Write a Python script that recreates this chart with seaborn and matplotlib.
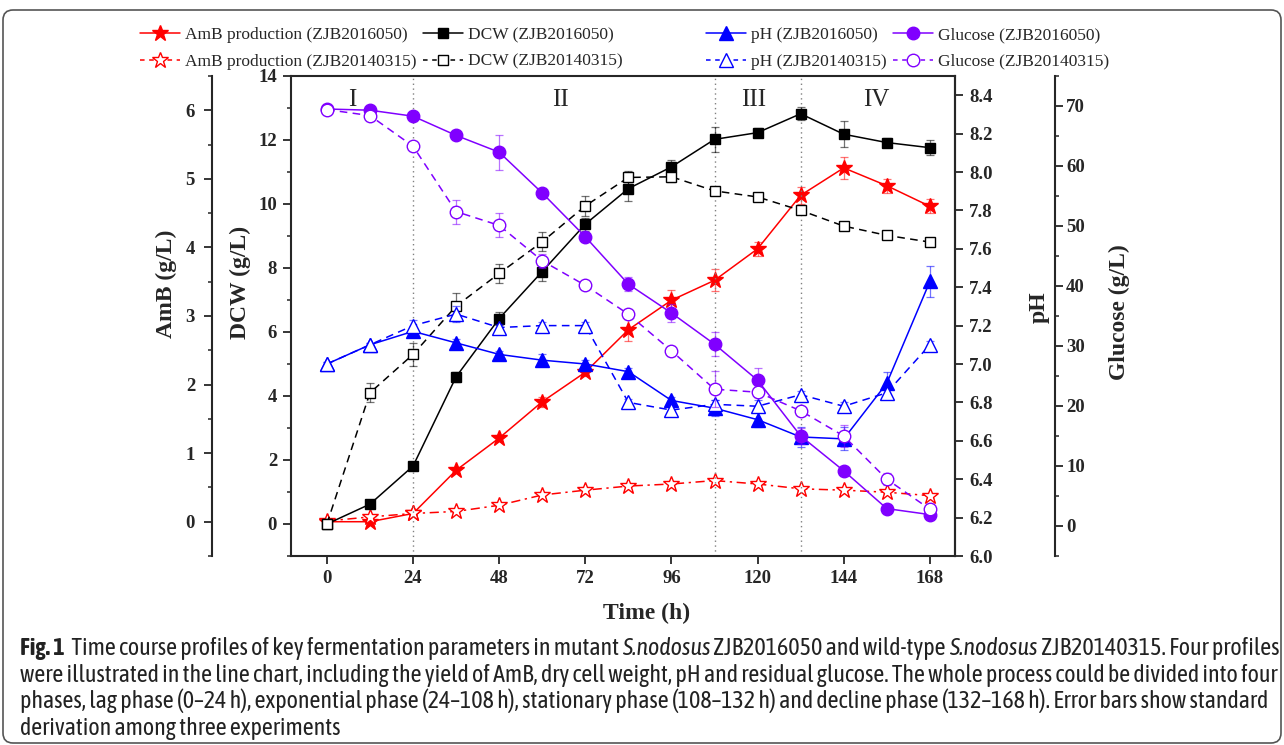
import matplotlib
matplotlib.use("Agg")
import numpy as np
import pandas as pd
import seaborn as sns
import matplotlib.pyplot as plt
from matplotlib import font_manager as fm
from matplotlib.lines import Line2D
from matplotlib.patches import FancyBboxPatch
from matplotlib.transforms import IdentityTransform
from matplotlib.ticker import MultipleLocator, FormatStrFormatter

# ---------------- data ----------------
time_h = [0, 12, 24, 36, 48, 60, 72, 84, 96, 108, 120, 132, 144, 156, 168]

amb_mut = [0.00, 0.00, 0.12, 0.75, 1.22, 1.75, 2.18, 2.80, 3.23, 3.52, 3.98, 4.76, 5.16, 4.90, 4.60]
amb_mut_sd = [0.00, 0.02, 0.02, 0.04, 0.05, 0.07, 0.06, 0.16, 0.15, 0.16, 0.10, 0.12, 0.16, 0.10, 0.10]
amb_wt = [0.01, 0.07, 0.12, 0.15, 0.24, 0.39, 0.46, 0.52, 0.55, 0.60, 0.55, 0.48, 0.46, 0.43, 0.38]
amb_wt_sd = [0.01, 0.02, 0.02, 0.02, 0.03, 0.04, 0.04, 0.04, 0.04, 0.04, 0.04, 0.03, 0.03, 0.03, 0.03]

dcw_mut = [0.00, 0.62, 1.81, 4.60, 6.42, 7.89, 9.37, 10.48, 11.16, 12.02, 12.23, 12.82, 12.18, 11.92, 11.76]
dcw_mut_sd = [0.00, 0.10, 0.10, 0.15, 0.20, 0.30, 0.20, 0.40, 0.20, 0.40, 0.15, 0.20, 0.40, 0.15, 0.23]
dcw_wt = [0.00, 4.10, 5.30, 6.81, 7.83, 8.82, 9.94, 10.83, 10.85, 10.41, 10.22, 9.80, 9.31, 9.02, 8.81]
dcw_wt_sd = [0.00, 0.30, 0.35, 0.40, 0.30, 0.30, 0.30, 0.20, 0.15, 0.10, 0.10, 0.10, 0.10, 0.10, 0.10]

ph_mut = [7.00, 7.10, 7.17, 7.11, 7.05, 7.02, 7.00, 6.96, 6.81, 6.77, 6.71, 6.62, 6.61, 6.90, 7.43]
ph_mut_sd = [0.01, 0.01, 0.02, 0.02, 0.02, 0.03, 0.02, 0.02, 0.02, 0.04, 0.04, 0.05, 0.06, 0.06, 0.08]
ph_wt = [7.00, 7.10, 7.20, 7.26, 7.19, 7.20, 7.20, 6.80, 6.76, 6.79, 6.78, 6.84, 6.78, 6.85, 7.10]
ph_wt_sd = [0.01, 0.01, 0.03, 0.04, 0.02, 0.02, 0.02, 0.02, 0.03, 0.02, 0.03, 0.02, 0.02, 0.03, 0.02]

glu_mut = [69.5, 69.3, 68.3, 65.1, 62.3, 55.5, 48.2, 40.3, 35.5, 30.3, 24.3, 15.0, 9.2, 2.9, 1.9]
glu_mut_sd = [0.3, 0.5, 0.6, 0.6, 2.9, 0.5, 0.5, 1.2, 1.5, 2.0, 2.0, 1.4, 0.6, 0.5, 0.4]
glu_wt = [69.4, 68.4, 63.3, 52.4, 50.1, 44.2, 40.1, 35.3, 29.2, 22.8, 22.3, 19.2, 15.0, 7.8, 2.8]
glu_wt_sd = [0.3, 0.6, 0.5, 2.0, 2.0, 1.2, 0.5, 0.6, 0.8, 3.0, 0.8, 0.6, 1.8, 1.0, 0.8]

phase_bounds = [24, 108, 132]
phase_labels = ["I", "II", "III", "IV"]
phase_label_x = [7, 65, 119, 153]

x_ticks = [0, 24, 48, 72, 96, 120, 144, 168]

label_mut = "ZJB2016050"
label_wt = "ZJB20140315"

caption_lines = [
    [("Fig. 1", "b"), ("  Time course profiles of key fermentation parameters in mutant ", "r"),
     ("S.nodosus", "i"), (" ZJB2016050 and wild-type ", "r"), ("S.nodosus", "i"),
     (" ZJB20140315. Four profiles", "r")],
    [("were illustrated in the line chart, including the yield of AmB, dry cell weight, pH and residual glucose. The whole process could be divided into four", "r")],
    [("phases, lag phase (0\u201324 h), exponential phase (24\u2013108 h), stationary phase (108\u2013132 h) and decline phase (132\u2013168 h). Error bars show standard", "r")],
    [("derivation among three experiments", "r")],
]

# ---------------- fonts ----------------
ttf = fm.fontManager.ttflist
available = set(f.name for f in ttf)


def wnum(f):
    return f.weight if isinstance(f.weight, int) else {"bold": 700, "light": 300}.get(f.weight, 400)


def pick(cands, default, need_variants=False):
    for c in cands:
        if c not in available:
            continue
        if need_variants:
            fams = [f for f in ttf if f.name == c]
            has_it = any(f.style == "italic" for f in fams)
            has_b = any(wnum(f) >= 700 for f in fams)
            if not (has_it and has_b):
                continue
        return c
    return default


SERIF = pick(["Tinos", "Liberation Serif", "Times New Roman", "Nimbus Roman", "TeX Gyre Termes",
              "STIX Two Text", "Noto Serif"], "DejaVu Serif")
CAPF = pick(["Asap Condensed", "Roboto Condensed", "Barlow Semi Condensed", "Archivo Narrow",
             "Encode Sans Condensed", "PT Sans Narrow", "Arimo"], "DejaVu Sans", need_variants=True)
cap_fams = [f for f in ttf if f.name == CAPF]
light_ok = (any(wnum(f) == 300 and f.style == "normal" for f in cap_fams)
            and any(wnum(f) == 300 and f.style == "italic" for f in cap_fams))
BODY_W = 300 if light_ok else "normal"

sns.set_style("ticks")
plt.rcParams["font.family"] = [SERIF, "DejaVu Serif"]

W, H = 1284, 745
fig = plt.figure(figsize=(W / 100, H / 100), dpi=100)
fig.patch.set_facecolor("white")

ax_left, ax_right, ax_top, ax_bot = 291, 955, 76, 556
ax = fig.add_axes([ax_left / W, 1 - ax_bot / H, (ax_right - ax_left) / W, (ax_bot - ax_top) / H])
ax.patch.set_visible(False)
ax_amb = ax.twinx()
ax_ph = ax.twinx()
ax_glu = ax.twinx()
ax_amb.set_zorder(1)
ax.set_zorder(2)
ax_ph.set_zorder(3)
ax_glu.set_zorder(4)
for a in (ax_amb, ax_ph, ax_glu):
    a.patch.set_visible(False)

RED = "#FF0000"
BLACK = "#000000"
BLUE = "#0000FF"
PURPLE = "#8000FF"

dash_wt = (0, (5, 3.5))
dashdot_wt = (0, (6, 3, 1.5, 3))


def draw_series(a, y, sd, color, marker, ms, filled, ls):
    a.errorbar(time_h, y, yerr=sd, fmt="none", ecolor=color, alpha=0.55,
               elinewidth=0.9, capsize=3.2, capthick=0.9, zorder=1)
    sns.lineplot(x=time_h, y=y, ax=a, color=color, linestyle=ls, linewidth=1.1,
                 marker=marker, markersize=ms,
                 markerfacecolor=color if filled else "white",
                 markeredgecolor=color, markeredgewidth=1.0,
                 errorbar=None, zorder=2 if filled else 3)


draw_series(ax_amb, amb_mut, amb_mut_sd, RED, "*", 12, True, "-")
draw_series(ax_amb, amb_wt, amb_wt_sd, RED, "*", 12, False, dashdot_wt)
draw_series(ax, dcw_mut, dcw_mut_sd, BLACK, "s", 7.5, True, "-")
draw_series(ax, dcw_wt, dcw_wt_sd, BLACK, "s", 7.5, False, dash_wt)
draw_series(ax_ph, ph_mut, ph_mut_sd, BLUE, "^", 9.5, True, "-")
draw_series(ax_ph, ph_wt, ph_wt_sd, BLUE, "^", 9.5, False, dash_wt)
draw_series(ax_glu, glu_mut, glu_mut_sd, PURPLE, "o", 9, True, "-")
draw_series(ax_glu, glu_wt, glu_wt_sd, PURPLE, "o", 9, False, dash_wt)

for xb in phase_bounds:
    ax.axvline(xb, color="#808080", linestyle=(0, (1, 2.5)), linewidth=1.0, zorder=0)
for xl, lab in zip(phase_label_x, phase_labels):
    ax.text(xl, 13.25, lab, fontsize=18, ha="center", va="center")

# ---------------- axes ----------------
lab_font = dict(fontsize=17, fontweight="bold")

ax.set_xlim(-10, 175)
ax.set_ylim(-1, 14)
ax.set_xticks(x_ticks)
ax.set_yticks(np.arange(0, 15, 2))
ax.yaxis.set_minor_locator(MultipleLocator(1))
ax.tick_params(axis="both", which="major", direction="out", length=6, width=1.3, pad=4)
ax.tick_params(axis="y", which="minor", direction="out", length=3.2, width=1.1)
ax.tick_params(top=False, right=False, which="both")
for s in ax.spines.values():
    s.set_linewidth(1.5)
    s.set_visible(True)

ax_amb.set_ylim(-0.5, 6.5)
ax_amb.set_yticks(np.arange(0, 7, 1))
ax_amb.yaxis.set_minor_locator(MultipleLocator(0.5))
ax_amb.spines["left"].set_position(("axes", -0.1194))
ax_amb.spines["left"].set_visible(True)
ax_amb.spines["left"].set_linewidth(1.5)
for k in ("right", "top", "bottom"):
    ax_amb.spines[k].set_visible(False)
ax_amb.yaxis.set_ticks_position("left")
ax_amb.yaxis.set_label_position("left")
ax_amb.tick_params(axis="y", which="major", direction="out", length=6, width=1.3, pad=6)
ax_amb.tick_params(axis="y", which="minor", direction="out", length=3.2, width=1.1)

ax_ph.set_ylim(6.0, 8.5)
ax_ph.set_yticks(np.round(np.arange(6.0, 8.41, 0.2), 1))
ax_ph.yaxis.set_major_formatter(FormatStrFormatter("%.1f"))
for k in ("left", "top", "bottom"):
    ax_ph.spines[k].set_visible(False)
ax_ph.spines["right"].set_linewidth(1.5)
ax_ph.tick_params(axis="y", which="major", direction="out", length=6, width=1.3, pad=4)

ax_glu.set_ylim(-5, 75)
ax_glu.set_yticks(np.arange(0, 71, 10))
ax_glu.yaxis.set_minor_locator(MultipleLocator(5))
ax_glu.spines["right"].set_position(("axes", 1.1506))
ax_glu.spines["right"].set_linewidth(1.5)
for k in ("left", "top", "bottom"):
    ax_glu.spines[k].set_visible(False)
ax_glu.tick_params(axis="y", which="major", direction="out", length=6, width=1.3, pad=2)
ax_glu.tick_params(axis="y", which="minor", direction="out", length=3.2, width=1.1)

for a in (ax, ax_amb, ax_ph, ax_glu):
    for lbl in a.get_yticklabels():
        lbl.set_fontsize(13.5)
        lbl.set_fontweight("bold")
for lbl in ax.get_xticklabels():
    lbl.set_fontsize(13.5)
    lbl.set_fontweight("bold")

ax.set_xlabel("Time (h)", **lab_font)
ax.set_ylabel("DCW (g/L)", **lab_font)
ax_amb.set_ylabel("AmB (g/L)", **lab_font)
ax_ph.set_ylabel("pH", **lab_font)
ax_glu.set_ylabel("Glucose (g/L)", **lab_font)

aw, ah = ax_right - ax_left, ax_bot - ax_top


def fx(px):
    return (px - ax_left) / aw


def fy(py):
    return (ax_bot - py) / ah


ax.xaxis.set_label_coords(fx(647), fy(613))
ax.xaxis.label.set_verticalalignment("center")
ax.yaxis.set_label_coords(fx(240), fy(282))
ax_amb.yaxis.set_label_coords(fx(166.5), fy(284))
ax_ph.yaxis.set_label_coords(fx(1039), fy(307))
ax_glu.yaxis.set_label_coords(fx(1119), fy(312))
for a in (ax, ax_amb, ax_ph, ax_glu):
    a.yaxis.label.set_verticalalignment("center")


# ---------------- legend ----------------
def h(color, marker, ms, filled, ls):
    return Line2D([], [], color=color, linestyle=ls, linewidth=1.1, marker=marker, markersize=ms,
                  markerfacecolor=color if filled else "white", markeredgecolor=color,
                  markeredgewidth=1.0)


legend_cols = [
    (140, [h(RED, "*", 12, True, "-"), h(RED, "*", 12, False, (0, (3, 3)))],
     [f"AmB production ({label_mut})", f"AmB production ({label_wt})"]),
    (423, [h(BLACK, "s", 7.5, True, "-"), h(BLACK, "s", 7.5, False, (0, (3, 3)))],
     [f"DCW ({label_mut})", f"DCW ({label_wt})"]),
    (706, [h(BLUE, "^", 9.5, True, "-"), h(BLUE, "^", 9.5, False, (0, (3, 3)))],
     [f"pH ({label_mut})", f"pH ({label_wt})"]),
    (893, [h(PURPLE, "o", 9, True, "-"), h(PURPLE, "o", 9, False, (0, (3, 3)))],
     [f"Glucose ({label_mut})", f"Glucose ({label_wt})"]),
]
for xpx, hs, ls_ in legend_cols:
    fig.legend(hs, ls_, loc="center left", bbox_to_anchor=(xpx / W, 1 - 48.5 / H),
               frameon=False, borderpad=0, borderaxespad=0,
               handlelength=2.3, handletextpad=0.3, labelspacing=0.6, numpoints=1,
               prop={"family": SERIF, "size": 12.5})

# ---------------- border ----------------
border = FancyBboxPatch((3, 2), 1278, 733, boxstyle="round,pad=0,rounding_size=10",
                        transform=IdentityTransform(), facecolor="none",
                        edgecolor="#555555", linewidth=1.2)
fig.patches.append(border)

# ---------------- caption ----------------
styles = {"b": dict(fontweight="bold"), "r": dict(fontweight=BODY_W),
          "i": dict(fontstyle="italic", fontweight=BODY_W)}
baselines = [655, 682, 708, 735]
cap_texts = []


def layout_caption(size):
    for t in cap_texts:
        t.remove()
    cap_texts.clear()
    fig.canvas.draw()
    renderer = fig.canvas.get_renderer()
    widths = []
    for segs, yb in zip(caption_lines, baselines):
        x = 20.0
        for txt, st in segs:
            t = fig.text(x / W, 1 - yb / H, txt.replace(" ", "\u00a0"), fontsize=size,
                         family=[CAPF, "DejaVu Sans"], ha="left", va="baseline", color="#222222",
                         **styles[st])
            cap_texts.append(t)
            x += t.get_window_extent(renderer).width
        widths.append(x - 20.0)
    return widths


cap_size = 12.0
for _ in range(3):
    ws = layout_caption(cap_size)
    cap_size = cap_size * 1258.0 / ws[1]
layout_caption(cap_size)

fig.savefig("out.png", dpi=100, facecolor="white")
